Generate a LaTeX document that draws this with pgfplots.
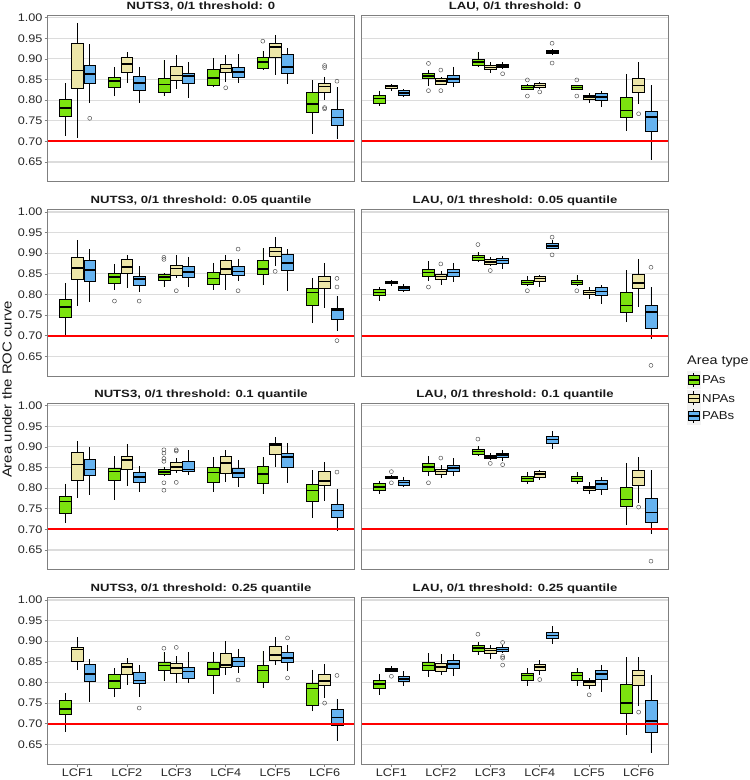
\documentclass[border=0pt]{standalone}
\usepackage{pgfplots}
\pgfplotsset{compat=1.18}
\usepgfplotslibrary{statistics}
\usepackage{fontspec}
\setmainfont{Liberation Sans}[FakeStretch=1.15]
\newfontfamily\titlefont{Liberation Sans}[FakeStretch=1.25]
\definecolor{pagreen}{HTML}{7CE30F}
\definecolor{npatan}{HTML}{EDE6A8}
\definecolor{pabblue}{HTML}{66B3F0}
\definecolor{gridgray}{HTML}{DCDCDC}
\definecolor{bordergray}{HTML}{7F7F7F}
\definecolor{keybg}{HTML}{F2F2F2}
\definecolor{threshred}{HTML}{FF0000}
\pgfplotsset{
  panel/.style={scale only axis, width=306.6pt, height=166.6pt, anchor=south west,
    xmin=0.4, xmax=6.6, ymin=0.602, ymax=1.006,
    axis on top=false,
    axis line style={draw=bordergray, line width=0.8pt},
    tick style={draw=bordergray, line width=0.6pt},
    tick align=outside, major tick length=3pt,
    grid style={draw=gridgray, line width=1.1pt},
    xtick=\empty,
    extra y ticks={0.65,0.75,0.80,0.85,0.90,0.95,1.00},
    extra y tick labels={},
    extra y tick style={grid=major, major tick length=0pt},
    every axis title/.style={at={(0.5,1)}, anchor=base, yshift=6pt,
      font=\titlefont\bfseries\fontsize{10.5}{12}\selectfont, color=black!90},
  },
  leftcol/.style={ytick={0.65,0.70,0.75,0.80,0.85,0.90,0.95,1.00},
    yticklabels={0.65,0.70,0.75,0.80,0.85,0.90,0.95,1.00},
    ytick pos=left,
    yticklabel style={font=\fontsize{11}{13}\selectfont, color=black!85, inner sep=0pt, xshift=-2pt}},
  rightcol/.style={ytick=\empty},
  bottomrow/.style={xtick={1,2,3,4,5,6}, xticklabels={LCF1,LCF2,LCF3,LCF4,LCF5,LCF6},
    xtick pos=left,
    xticklabel style={font=\fontsize{11}{13}\selectfont, color=black!85, inner sep=0pt, yshift=-2pt}},
  boxbase/.style={draw=black, line width=0.55pt, mark=o, mark size=2pt,
    mark options={draw=black!70, line width=0.45pt},
    boxplot/draw direction=y,
    boxplot/box extend=0.24, boxplot/whisker extend=0,
    boxplot/every median/.style={line width=1.6pt}},
}
\newcommand{\bx}[8]{\addplot[boxbase, fill=#1, boxplot prepared={draw position=#2, lower whisker=#3, lower quartile=#4, median=#5, upper quartile=#6, upper whisker=#7}] coordinates {#8};}
\begin{document}
\begin{tikzpicture}
\path[use as bounding box] (0,0) rectangle (750pt,780pt);

% ---------- Row 1 left: NUTS3 0
\begin{axis}[panel, leftcol, at={(47.7pt,598.2pt)}, title={NUTS3, 0/1 threshold: 0}]
\bx{pagreen}{0.75}{0.714}{0.761}{0.781}{0.802}{0.841}{}
\bx{npatan}{1}{0.708}{0.828}{0.872}{0.937}{0.988}{}
\bx{pabblue}{1.25}{0.793}{0.841}{0.864}{0.885}{0.936}{(0,0.756)}
\bx{pagreen}{1.75}{0.809}{0.832}{0.847}{0.856}{0.880}{}
\bx{npatan}{2}{0.841}{0.868}{0.887}{0.903}{0.916}{}
\bx{pabblue}{2.25}{0.794}{0.823}{0.841}{0.858}{0.881}{}
\bx{pagreen}{2.75}{0.809}{0.819}{0.838}{0.852}{0.897}{}
\bx{npatan}{3}{0.827}{0.849}{0.860}{0.881}{0.909}{}
\bx{pabblue}{3.25}{0.806}{0.841}{0.858}{0.866}{0.893}{}
\bx{pagreen}{3.75}{0.831}{0.837}{0.854}{0.874}{0.903}{}
\bx{npatan}{4}{0.845}{0.867}{0.877}{0.887}{0.909}{(0,0.830)}
\bx{pabblue}{4.25}{0.841}{0.856}{0.868}{0.880}{0.912}{}
\bx{pagreen}{4.75}{0.874}{0.877}{0.893}{0.903}{0.920}{(0,0.943)}
\bx{npatan}{5}{0.862}{0.904}{0.929}{0.938}{0.959}{}
\bx{pabblue}{5.25}{0.840}{0.865}{0.881}{0.911}{0.927}{}
\bx{pagreen}{5.75}{0.719}{0.771}{0.790}{0.818}{0.848}{}
\bx{npatan}{6}{0.801}{0.818}{0.833}{0.841}{0.857}{(0,0.884) (0,0.879) (0,0.782) (0,0.779)}
\bx{pabblue}{6.25}{0.706}{0.738}{0.758}{0.779}{0.833}{(0,0.846)}
\addplot[fill=threshred, draw=none, forget plot] coordinates {(0.4,0.6976) (6.6,0.6976) (6.6,0.7024) (0.4,0.7024)} -- cycle;
\end{axis}

% ---------- Row 1 right: LAU 0
\begin{axis}[panel, rightcol, at={(361.7pt,598.2pt)}, title={LAU, 0/1 threshold: 0}]
\bx{pagreen}{0.75}{0.786}{0.793}{0.804}{0.813}{0.823}{}
\bx{npatan}{1}{0.823}{0.829}{0.833}{0.836}{0.839}{}
\bx{pabblue}{1.25}{0.810}{0.811}{0.818}{0.823}{0.827}{}
\bx{pagreen}{1.75}{0.835}{0.852}{0.859}{0.866}{0.872}{(0,0.889) (0,0.823)}
\bx{npatan}{2}{0.836}{0.839}{0.846}{0.852}{0.856}{(0,0.873) (0,0.823)}
\bx{pabblue}{2.25}{0.831}{0.843}{0.852}{0.860}{0.881}{}
\bx{pagreen}{2.75}{0.881}{0.885}{0.893}{0.899}{0.916}{}
\bx{npatan}{3}{0.865}{0.874}{0.879}{0.885}{0.892}{}
\bx{pabblue}{3.25}{0.876}{0.879}{0.883}{0.887}{0.893}{(0,0.864)}
\bx{pagreen}{3.75}{0.825}{0.827}{0.831}{0.836}{0.838}{(0,0.849) (0,0.810)}
\bx{npatan}{4}{0.828}{0.831}{0.836}{0.840}{0.844}{(0,0.820)}
\bx{pabblue}{4.25}{0.910}{0.913}{0.917}{0.921}{0.923}{(0,0.938) (0,0.890)}
\bx{pagreen}{4.75}{0.825}{0.827}{0.831}{0.835}{0.837}{(0,0.849) (0,0.810)}
\bx{npatan}{5}{0.793}{0.802}{0.807}{0.811}{0.817}{}
\bx{pabblue}{5.25}{0.783}{0.799}{0.808}{0.816}{0.823}{}
\bx{pagreen}{5.75}{0.726}{0.759}{0.775}{0.806}{0.864}{}
\bx{npatan}{6}{0.791}{0.819}{0.836}{0.852}{0.893}{(0,0.767)}
\bx{pabblue}{6.25}{0.656}{0.724}{0.759}{0.774}{0.836}{}
\addplot[fill=threshred, draw=none, forget plot] coordinates {(0.4,0.6976) (6.6,0.6976) (6.6,0.7024) (0.4,0.7024)} -- cycle;
\end{axis}

% ---------- Row 2 left: NUTS3 0.05
\begin{axis}[panel, leftcol, at={(47.7pt,403.9pt)}, title={NUTS3, 0/1 threshold: 0.05 quantile}]
\bx{pagreen}{0.75}{0.702}{0.745}{0.769}{0.789}{0.828}{}
\bx{npatan}{1}{0.773}{0.838}{0.864}{0.889}{0.933}{}
\bx{pabblue}{1.25}{0.781}{0.831}{0.860}{0.882}{0.910}{}
\bx{pagreen}{1.75}{0.811}{0.827}{0.842}{0.852}{0.874}{(0,0.784)}
\bx{npatan}{2}{0.815}{0.851}{0.867}{0.886}{0.896}{}
\bx{pabblue}{2.25}{0.807}{0.822}{0.837}{0.844}{0.869}{(0,0.784)}
\bx{pagreen}{2.75}{0.817}{0.835}{0.843}{0.849}{0.853}{(0,0.890) (0,0.885)}
\bx{npatan}{3}{0.839}{0.846}{0.863}{0.871}{0.896}{(0,0.809)}
\bx{pabblue}{3.25}{0.817}{0.841}{0.854}{0.869}{0.890}{}
\bx{pagreen}{3.75}{0.811}{0.825}{0.839}{0.854}{0.877}{}
\bx{npatan}{4}{0.811}{0.849}{0.862}{0.882}{0.896}{}
\bx{pabblue}{4.25}{0.832}{0.846}{0.856}{0.868}{0.885}{(0,0.910) (0,0.809)}
\bx{pagreen}{4.75}{0.822}{0.848}{0.861}{0.882}{0.912}{}
\bx{npatan}{5}{0.868}{0.892}{0.904}{0.914}{0.939}{(0,0.856)}
\bx{pabblue}{5.25}{0.809}{0.858}{0.876}{0.897}{0.910}{}
\bx{pagreen}{5.75}{0.730}{0.773}{0.805}{0.814}{0.841}{}
\bx{npatan}{6}{0.768}{0.814}{0.831}{0.845}{0.877}{}
\bx{pabblue}{6.25}{0.712}{0.741}{0.762}{0.767}{0.797}{(0,0.839) (0,0.818) (0,0.688)}
\addplot[fill=threshred, draw=none, forget plot] coordinates {(0.4,0.6976) (6.6,0.6976) (6.6,0.7024) (0.4,0.7024)} -- cycle;
\end{axis}

% ---------- Row 2 right: LAU 0.05
\begin{axis}[panel, rightcol, at={(361.7pt,403.9pt)}, title={LAU, 0/1 threshold: 0.05 quantile}]
\bx{pagreen}{0.75}{0.785}{0.797}{0.805}{0.813}{0.818}{}
\bx{npatan}{1}{0.821}{0.826}{0.829}{0.831}{0.834}{}
\bx{pabblue}{1.25}{0.807}{0.809}{0.815}{0.821}{0.826}{}
\bx{pagreen}{1.75}{0.833}{0.845}{0.853}{0.861}{0.881}{(0,0.818)}
\bx{npatan}{2}{0.823}{0.837}{0.844}{0.849}{0.858}{(0,0.874)}
\bx{pabblue}{2.25}{0.831}{0.845}{0.853}{0.861}{0.877}{}
\bx{pagreen}{2.75}{0.880}{0.882}{0.890}{0.896}{0.904}{(0,0.921)}
\bx{npatan}{3}{0.868}{0.873}{0.878}{0.885}{0.892}{(0,0.858)}
\bx{pabblue}{3.25}{0.861}{0.875}{0.882}{0.888}{0.894}{}
\bx{pagreen}{3.75}{0.823}{0.824}{0.829}{0.834}{0.845}{(0,0.809)}
\bx{npatan}{4}{0.818}{0.831}{0.839}{0.844}{0.848}{}
\bx{pabblue}{4.25}{0.910}{0.913}{0.918}{0.923}{0.931}{(0,0.939) (0,0.896)}
\bx{pagreen}{4.75}{0.822}{0.824}{0.829}{0.834}{0.846}{(0,0.809)}
\bx{npatan}{5}{0.788}{0.800}{0.805}{0.809}{0.818}{}
\bx{pabblue}{5.25}{0.777}{0.797}{0.807}{0.818}{0.822}{}
\bx{pagreen}{5.75}{0.732}{0.756}{0.773}{0.805}{0.859}{}
\bx{npatan}{6}{0.769}{0.814}{0.828}{0.850}{0.887}{}
\bx{pabblue}{6.25}{0.692}{0.717}{0.758}{0.773}{0.819}{(0,0.866) (0,0.628)}
\addplot[fill=threshred, draw=none, forget plot] coordinates {(0.4,0.6976) (6.6,0.6976) (6.6,0.7024) (0.4,0.7024)} -- cycle;
\end{axis}

% ---------- Row 3 left: NUTS3 0.1
\begin{axis}[panel, leftcol, at={(47.7pt,210.2pt)}, title={NUTS3, 0/1 threshold: 0.1 quantile}]
\bx{pagreen}{0.75}{0.715}{0.739}{0.768}{0.781}{0.811}{}
\bx{npatan}{1}{0.777}{0.819}{0.857}{0.887}{0.914}{}
\bx{pabblue}{1.25}{0.784}{0.832}{0.845}{0.871}{0.899}{}
\bx{pagreen}{1.75}{0.771}{0.818}{0.840}{0.849}{0.877}{}
\bx{npatan}{2}{0.805}{0.845}{0.868}{0.877}{0.906}{}
\bx{pabblue}{2.25}{0.790}{0.814}{0.827}{0.839}{0.854}{}
\bx{pagreen}{2.75}{0.831}{0.833}{0.839}{0.845}{0.852}{(0,0.893) (0,0.885) (0,0.872) (0,0.865) (0,0.813) (0,0.795)}
\bx{npatan}{3}{0.837}{0.843}{0.851}{0.863}{0.872}{(0,0.893) (0,0.890) (0,0.814)}
\bx{pabblue}{3.25}{0.831}{0.840}{0.845}{0.865}{0.893}{}
\bx{pagreen}{3.75}{0.791}{0.814}{0.838}{0.850}{0.876}{}
\bx{npatan}{4}{0.816}{0.837}{0.861}{0.877}{0.892}{}
\bx{pabblue}{4.25}{0.802}{0.827}{0.837}{0.849}{0.869}{}
\bx{pagreen}{4.75}{0.786}{0.812}{0.834}{0.852}{0.876}{}
\bx{npatan}{5}{0.851}{0.882}{0.904}{0.910}{0.923}{}
\bx{pabblue}{5.25}{0.813}{0.851}{0.876}{0.885}{0.910}{}
\bx{pagreen}{5.75}{0.727}{0.767}{0.794}{0.810}{0.843}{}
\bx{npatan}{6}{0.770}{0.807}{0.817}{0.841}{0.864}{}
\bx{pabblue}{6.25}{0.697}{0.729}{0.746}{0.761}{0.799}{(0,0.839)}
\addplot[fill=threshred, draw=none, forget plot] coordinates {(0.4,0.6976) (6.6,0.6976) (6.6,0.7024) (0.4,0.7024)} -- cycle;
\end{axis}

% ---------- Row 3 right: LAU 0.1
\begin{axis}[panel, rightcol, at={(361.7pt,210.2pt)}, title={LAU, 0/1 threshold: 0.1 quantile}]
\bx{pagreen}{0.75}{0.786}{0.794}{0.803}{0.811}{0.817}{}
\bx{npatan}{1}{0.821}{0.824}{0.827}{0.830}{0.831}{(0,0.840) (0,0.813)}
\bx{pabblue}{1.25}{0.803}{0.806}{0.814}{0.819}{0.828}{}
\bx{pagreen}{1.75}{0.829}{0.842}{0.851}{0.860}{0.877}{(0,0.813)}
\bx{npatan}{2}{0.825}{0.834}{0.840}{0.845}{0.856}{(0,0.873)}
\bx{pabblue}{2.25}{0.829}{0.842}{0.849}{0.856}{0.872}{}
\bx{pagreen}{2.75}{0.879}{0.881}{0.889}{0.895}{0.902}{(0,0.919)}
\bx{npatan}{3}{0.868}{0.872}{0.876}{0.880}{0.885}{(0,0.860)}
\bx{pabblue}{3.25}{0.865}{0.875}{0.881}{0.885}{0.892}{(0,0.857)}
\bx{pagreen}{3.75}{0.811}{0.817}{0.823}{0.829}{0.840}{}
\bx{npatan}{4}{0.819}{0.827}{0.835}{0.840}{0.845}{}
\bx{pabblue}{4.25}{0.896}{0.910}{0.918}{0.927}{0.938}{}
\bx{pagreen}{4.75}{0.811}{0.816}{0.823}{0.829}{0.840}{}
\bx{npatan}{5}{0.785}{0.796}{0.801}{0.805}{0.815}{}
\bx{pabblue}{5.25}{0.783}{0.798}{0.810}{0.818}{0.827}{}
\bx{pagreen}{5.75}{0.710}{0.756}{0.772}{0.802}{0.861}{}
\bx{npatan}{6}{0.764}{0.806}{0.826}{0.843}{0.876}{(0,0.754)}
\bx{pabblue}{6.25}{0.690}{0.718}{0.741}{0.775}{0.845}{(0,0.623)}
\addplot[fill=threshred, draw=none, forget plot] coordinates {(0.4,0.6976) (6.6,0.6976) (6.6,0.7024) (0.4,0.7024)} -- cycle;
\end{axis}

% ---------- Row 4 left: NUTS3 0.25
\begin{axis}[panel, leftcol, bottomrow, at={(47.7pt,15.9pt)}, title={NUTS3, 0/1 threshold: 0.25 quantile}]
\bx{pagreen}{0.75}{0.680}{0.723}{0.736}{0.756}{0.774}{}
\bx{npatan}{1}{0.829}{0.851}{0.880}{0.885}{0.910}{}
\bx{pabblue}{1.25}{0.752}{0.804}{0.821}{0.843}{0.857}{}
\bx{pagreen}{1.75}{0.764}{0.785}{0.804}{0.819}{0.835}{}
\bx{npatan}{2}{0.795}{0.819}{0.838}{0.846}{0.859}{}
\bx{pabblue}{2.25}{0.764}{0.797}{0.805}{0.824}{0.843}{(0,0.738)}
\bx{pagreen}{2.75}{0.803}{0.829}{0.841}{0.849}{0.874}{(0,0.883)}
\bx{npatan}{3}{0.799}{0.822}{0.835}{0.846}{0.863}{(0,0.885)}
\bx{pabblue}{3.25}{0.799}{0.810}{0.827}{0.838}{0.874}{}
\bx{pagreen}{3.75}{0.773}{0.817}{0.833}{0.849}{0.874}{}
\bx{npatan}{4}{0.817}{0.838}{0.843}{0.870}{0.901}{}
\bx{pabblue}{4.25}{0.823}{0.839}{0.851}{0.860}{0.882}{(0,0.806)}
\bx{pagreen}{4.75}{0.787}{0.800}{0.829}{0.842}{0.877}{}
\bx{npatan}{5}{0.842}{0.854}{0.866}{0.888}{0.910}{}
\bx{pabblue}{5.25}{0.827}{0.850}{0.859}{0.872}{0.890}{(0,0.908) (0,0.811)}
\bx{pagreen}{5.75}{0.730}{0.744}{0.785}{0.797}{0.831}{}
\bx{npatan}{6}{0.762}{0.792}{0.804}{0.819}{0.845}{(0,0.750)}
\bx{pabblue}{6.25}{0.659}{0.696}{0.715}{0.734}{0.761}{(0,0.817)}
\addplot[fill=threshred, draw=none, forget plot] coordinates {(0.4,0.6976) (6.6,0.6976) (6.6,0.7024) (0.4,0.7024)} -- cycle;
\end{axis}

% ---------- Row 4 right: LAU 0.25
\begin{axis}[panel, rightcol, bottomrow, at={(361.7pt,15.9pt)}, title={LAU, 0/1 threshold: 0.25 quantile}]
\bx{pagreen}{0.75}{0.769}{0.786}{0.796}{0.805}{0.821}{}
\bx{npatan}{1}{0.825}{0.827}{0.830}{0.834}{0.839}{(0,0.815)}
\bx{pabblue}{1.25}{0.791}{0.802}{0.809}{0.815}{0.827}{}
\bx{pagreen}{1.75}{0.813}{0.829}{0.841}{0.849}{0.871}{}
\bx{npatan}{2}{0.817}{0.828}{0.838}{0.846}{0.870}{}
\bx{pabblue}{2.25}{0.815}{0.834}{0.845}{0.854}{0.869}{}
\bx{pagreen}{2.75}{0.866}{0.876}{0.884}{0.889}{0.897}{(0,0.917)}
\bx{npatan}{3}{0.856}{0.870}{0.877}{0.884}{0.890}{}
\bx{pabblue}{3.25}{0.872}{0.876}{0.880}{0.885}{0.890}{(0,0.897) (0,0.863) (0,0.859) (0,0.842)}
\bx{pagreen}{3.75}{0.792}{0.806}{0.817}{0.823}{0.835}{}
\bx{npatan}{4}{0.819}{0.829}{0.838}{0.843}{0.854}{(0,0.807)}
\bx{pabblue}{4.25}{0.894}{0.907}{0.914}{0.921}{0.936}{}
\bx{pagreen}{4.75}{0.792}{0.806}{0.817}{0.824}{0.834}{}
\bx{npatan}{5}{0.785}{0.793}{0.801}{0.806}{0.811}{(0,0.770)}
\bx{pabblue}{5.25}{0.778}{0.808}{0.820}{0.829}{0.843}{}
\bx{pagreen}{5.75}{0.672}{0.726}{0.750}{0.795}{0.861}{}
\bx{npatan}{6}{0.742}{0.793}{0.817}{0.829}{0.862}{(0,0.728)}
\bx{pabblue}{6.25}{0.630}{0.680}{0.706}{0.756}{0.817}{}
\addplot[fill=threshred, draw=none, forget plot] coordinates {(0.4,0.6976) (6.6,0.6976) (6.6,0.7024) (0.4,0.7024)} -- cycle;
\end{axis}

% ---------- y axis title
\node[rotate=90, anchor=center, inner sep=0pt, font=\fontsize{13}{15}\selectfont, color=black!90] at (7pt,390.5pt) {Area under the ROC curve};

% ---------- legend
\node[anchor=base west, inner sep=0pt, font=\fontsize{12.5}{14}\selectfont, color=black!90] at (687pt,415pt) {Area type};
\foreach \yc/\col/\lab in {400/pagreen/PAs, 381.7/npatan/NPAs, 364/pabblue/PABs}{
  \fill[keybg] (686.5pt,\yc pt-8.6pt) rectangle (700.5pt,\yc pt+8.6pt);
  \draw[black, line width=0.5pt] (693.5pt,\yc pt-7pt) -- (693.5pt,\yc pt+7pt);
  \filldraw[fill=\col, draw=black, line width=0.5pt] (688pt,\yc pt-4.3pt) rectangle (699pt,\yc pt+4.3pt);
  \draw[black, line width=1.2pt] (688pt,\yc pt) -- (699pt,\yc pt);
  \node[anchor=west, inner sep=0pt, font=\fontsize{11.5}{13}\selectfont, color=black!90] at (702pt,\yc pt) {\lab};
}
\end{tikzpicture}
\end{document}
